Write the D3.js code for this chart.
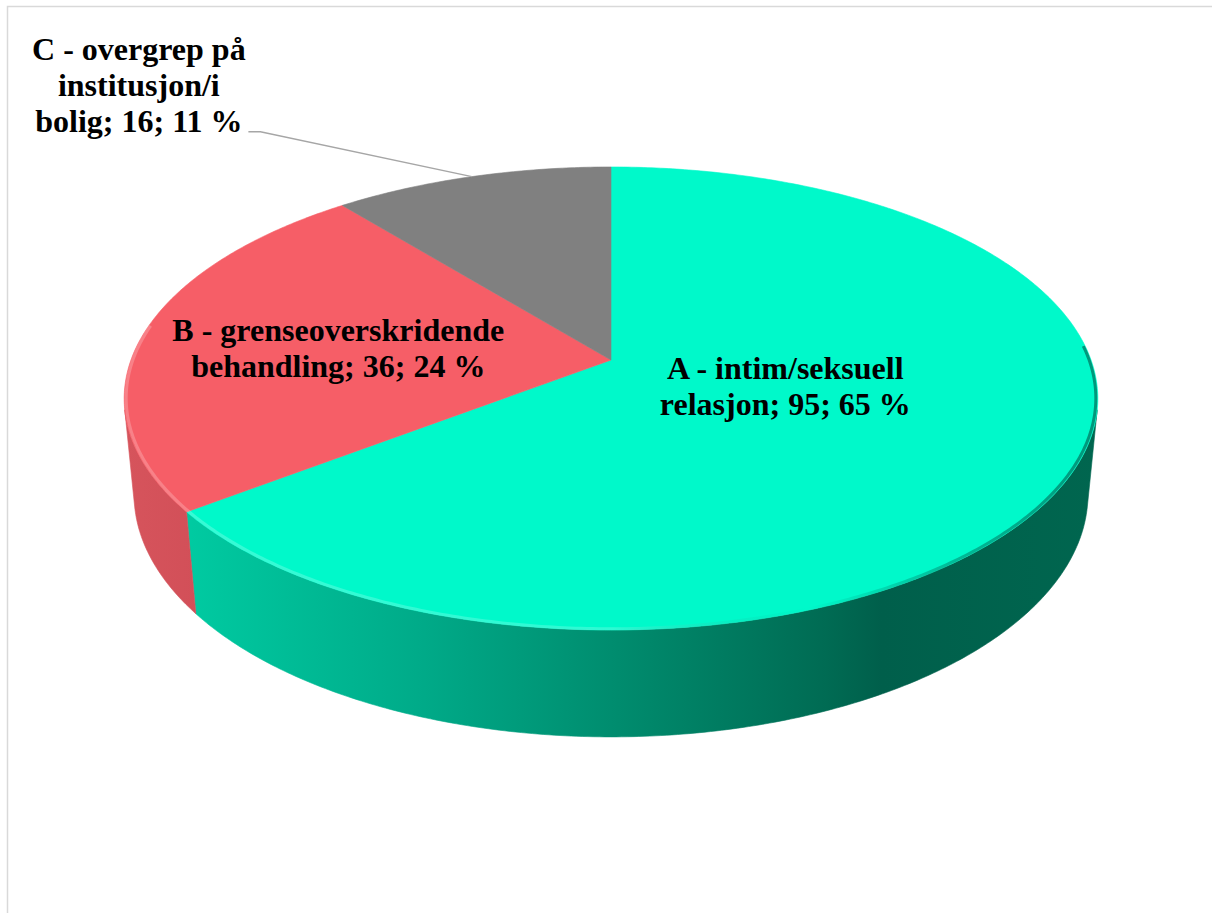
<!DOCTYPE html>
<html>
<head>
<meta charset="utf-8">
<script src="https://cdn.jsdelivr.net/npm/d3@7"></script>
<style>
  body { margin: 0; background: #fff; }
  svg { display: block; }
  text { font-family: "Liberation Serif", "Times New Roman", serif; font-weight: bold; font-size: 32px; fill: #000; }
</style>
</head>
<body>
<svg id="chart" width="1212" height="913"></svg>
<script>
const categories = ["A - intim/seksuell relasjon", "B - grenseoverskridende behandling", "C - overgrep på institusjon/i bolig"];
const values = [95, 36, 16];
const topColors = ["#00f9ca", "#f65e67", "#808080"];

const svg = d3.select("#chart");
const W = 1212, H = 913;

// chart frame
svg.append("rect")
  .attr("x", 7.5).attr("y", 6.5)
  .attr("width", W).attr("height", H)
  .attr("fill", "#fff").attr("stroke", "#d9d9d9").attr("stroke-width", 1.5);

// 3d camera
const cx = 611, cy = 360;
const D = 5.31, f = 2549, depthH = 0.228;
const alpha = Math.asin(0.469);
const sa = Math.sin(alpha), ca = Math.cos(alpha);

function project(x, y, z) {
  const up = -y * sa + z * ca;
  const dep = D - (y * ca + z * sa);
  return [cx + f * x / dep, cy - f * up / dep];
}
// phi: clockwise from the back, in radians
function rim(phi, r, z) {
  return project(r * Math.sin(phi), -r * Math.cos(phi), z);
}
function arcPts(a0, a1, r, z) {
  const n = Math.max(2, Math.ceil(Math.abs(a1 - a0) / 0.01));
  return d3.range(n + 1).map(i => rim(a0 + (a1 - a0) * i / n, r, z));
}

const total = d3.sum(values);
const pie = d3.pie().sort(null).value(d => d);
const arcs = pie(values);

// visible part of the side wall
const vis = Math.acos(-1 / (D * ca));
const visLo = vis, visHi = 2 * Math.PI - vis;

const defs = svg.append("defs");
const gA = defs.append("linearGradient").attr("id", "wallA")
  .attr("gradientUnits", "userSpaceOnUse").attr("x1", 190).attr("x2", 1100).attr("y1", 0).attr("y2", 0);
[[0, "#00caa1"], [0.25, "#00ab89"], [0.47, "#008c6e"], [0.7, "#006b53"], [0.76, "#005f4b"], [1, "#00664f"]]
  .forEach(s => gA.append("stop").attr("offset", s[0]).attr("stop-color", s[1]));
const gB = defs.append("linearGradient").attr("id", "wallB")
  .attr("gradientUnits", "userSpaceOnUse").attr("x1", 125).attr("x2", 200).attr("y1", 0).attr("y2", 0);
[[0, "#d6545c"], [1, "#d24f58"]]
  .forEach(s => gB.append("stop").attr("offset", s[0]).attr("stop-color", s[1]));
const gC = defs.append("linearGradient").attr("id", "wallC")
  .attr("gradientUnits", "userSpaceOnUse").attr("x1", 125).attr("x2", 200).attr("y1", 0).attr("y2", 0);
[[0, "#6a6a6a"], [1, "#606060"]]
  .forEach(s => gC.append("stop").attr("offset", s[0]).attr("stop-color", s[1]));
const gEdge = defs.append("linearGradient").attr("id", "edge")
  .attr("gradientUnits", "userSpaceOnUse").attr("x1", 125).attr("x2", 1100).attr("y1", 0).attr("y2", 0);
[[0, "#ffffff", 0.22], [0.5, "#ffffff", 0.18], [0.7, "#000000", 0.0], [0.85, "#000000", 0.25], [1, "#000000", 0.4]]
  .forEach(s => gEdge.append("stop").attr("offset", s[0]).attr("stop-color", s[1]).attr("stop-opacity", s[2]));
const wallFills = ["url(#wallA)", "url(#wallB)", "url(#wallC)"];

const line = d3.line();

// side walls
const gWalls = svg.append("g");
arcs.forEach((a, i) => {
  const a0 = Math.max(a.startAngle, visLo), a1 = Math.min(a.endAngle, visHi);
  if (a1 <= a0) return;
  const pts = arcPts(a0, a1, 1, 0).concat(arcPts(a1, a0, 1, -depthH));
  gWalls.append("path").attr("d", line(pts) + "Z")
    .attr("fill", wallFills[i]).attr("stroke", wallFills[i]).attr("stroke-width", 0.6);
});

// top faces
const gTop = svg.append("g");
arcs.forEach((a, i) => {
  const pts = [project(0, 0, 0)].concat(arcPts(a.startAngle, a.endAngle, 1, 0));
  gTop.append("path").attr("d", line(pts) + "Z")
    .attr("fill", topColors[i]).attr("stroke", topColors[i]).attr("stroke-width", 0.6);
});

// bevel along the front edge
svg.append("path")
  .attr("d", line(arcPts(Math.PI * 0.48, Math.PI * 1.55, 0.996, 0)))
  .attr("fill", "none").attr("stroke", "url(#edge)").attr("stroke-width", 3);

// data labels
const labelLayout = [
  { r: 0.4, dx: -3, dy: -15, wrap: 262 },
  { r: 0.6, dx: 10, dy: 3, wrap: 340 },
  { r: 1.0, dx: -333, dy: -92, wrap: 222, leader: true }
];
const lineH = 36, fs = 32;
const gLab = svg.append("g");

arcs.forEach((a, i) => {
  const lay = labelLayout[i];
  const mid = (a.startAngle + a.endAngle) / 2;
  const p = rim(mid, lay.r, 0);
  const pct = Math.round(values[i] / total * 100);
  const words = `${categories[i]}; ${values[i]}; ${pct} %`.split(" ");
  const t = gLab.append("text").attr("text-anchor", "middle");

  // wrap words to width
  const lines = [];
  let cur = [];
  const probe = gLab.append("text");
  words.forEach(w => {
    const test = cur.concat(w).join(" ");
    probe.text(test);
    if (cur.length && probe.node().getComputedTextLength() > lay.wrap) {
      lines.push(cur.join(" "));
      cur = [w];
    } else cur.push(w);
  });
  lines.push(cur.join(" "));
  probe.remove();

  const x = p[0] + lay.dx, yc = p[1] + lay.dy;
  lines.forEach((l, k) => {
    t.append("tspan").attr("x", x)
      .attr("y", yc + (k - (lines.length - 1) / 2) * lineH + 0.35 * fs)
      .text(l);
  });

  if (lay.leader) {
    const last = t.selectAll("tspan").nodes().pop();
    const bb = last.getBBox();
    const by = +d3.select(last).attr("y");
    const x0 = bb.x + bb.width + 6;
    svg.append("path")
      .attr("d", line([[x0, by], [x0 + 12, by], p]))
      .attr("fill", "none").attr("stroke", "#a6a6a6").attr("stroke-width", 1.5);
  }
});
</script>
</body>
</html>
